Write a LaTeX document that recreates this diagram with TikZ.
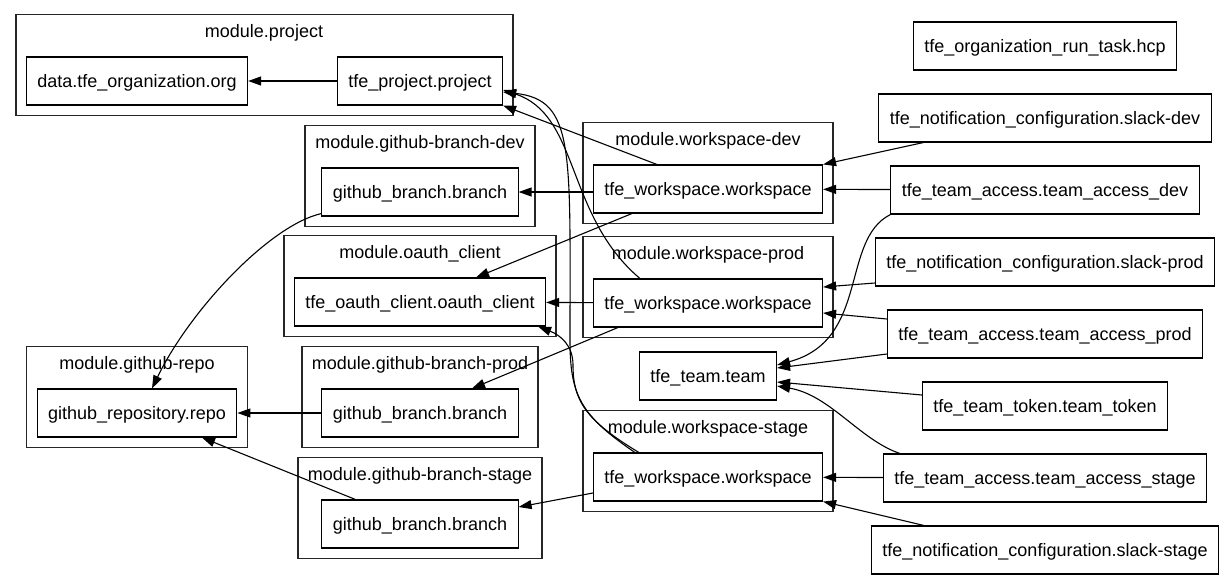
\documentclass[tikz,border=0pt]{standalone}
\usepackage{fontspec}
\setmainfont{Liberation Sans}
\usetikzlibrary{arrows.meta, calc, fit, positioning}

\begin{document}
\begin{tikzpicture}[
	x=1pt, y=-1pt,
	res/.style = {draw, line width=1.1pt, minimum height=48pt, inner xsep=11pt, text height=15pt, text depth=2pt, font=\fontsize{18}{20}\selectfont},
	modtitle/.style = {inner sep=0pt, text height=12.5pt, text depth=4pt, font=\fontsize{18}{20}\selectfont},
	cluster/.style = {draw=black!85, line width=1.6pt, inner sep=10pt},
	dep/.style = {-{Triangle[length=13pt, width=9pt]}, line width=1.1pt},
	node distance = 22.9pt and 0pt
]

\useasboundingbox (0,0) rectangle (1221,579);

% resources inside the modules
\node[res] (org) at (137,81) {data.tfe\_organization.org};
\node[res] (project) at (420,81) {tfe\_project.project};
\node[res] (gbdev) at (420,192) {github\_branch.branch};
\node[res] (oauth) at (420,302) {tfe\_oauth\_client.oauth\_client};
\node[res] (repo) at (137,413) {github\_repository.repo};
\node[res] (gbprod) at (420,413) {github\_branch.branch};
\node[res] (gbstage) at (420,524) {github\_branch.branch};
\node[res] (wsdev) at (708,189) {tfe\_workspace.workspace};
\node[res] (wsprod) at (708,303) {tfe\_workspace.workspace};
\node[res] (wsstage) at (708,477) {tfe\_workspace.workspace};
\node[res] (team) at (708,376) {tfe\_team.team};

% root resources
\node[res] (hcp) at (1045,46) {tfe\_organization\_run\_task.hcp};
\node[res, below=of hcp] (slackdev) {tfe\_notification\_configuration.slack-dev};
\node[res, below=of slackdev] (tadev) {tfe\_team\_access.team\_access\_dev};
\node[res, below=of tadev] (slackprod) {tfe\_notification\_configuration.slack-prod};
\node[res, below=of slackprod] (taprod) {tfe\_team\_access.team\_access\_prod};
\node[res, below=of taprod] (token) {tfe\_team\_token.team\_token};
\node[res, below=of token] (tastage) {tfe\_team\_access.team\_access\_stage};
\node[res, below=of tastage] (slackstage) {tfe\_notification\_configuration.slack-stage};

% modules
\node[modtitle] (tproject) at (264,33) {module.project};
\node[cluster, fit=(tproject)(org)(project)] (mproject) {};
\node[modtitle, above=15pt of gbdev] (tgbdev) {module.github-branch-dev};
\node[cluster, fit=(tgbdev)(gbdev)] (mgbdev) {};
\node[modtitle, above=15pt of oauth] (toauth) {module.oauth\_client};
\node[cluster, fit=(toauth)(oauth)] (moauth) {};
\node[modtitle, above=15pt of repo] (trepo) {module.github-repo};
\node[cluster, fit=(trepo)(repo)] (mrepo) {};
\node[modtitle, above=15pt of gbprod] (tgbprod) {module.github-branch-prod};
\node[cluster, fit=(tgbprod)(gbprod)] (mgbprod) {};
\node[modtitle, above=15pt of gbstage] (tgbstage) {module.github-branch-stage};
\node[cluster, fit=(tgbstage)(gbstage)] (mgbstage) {};
\node[modtitle, above=15pt of wsdev] (twsdev) {module.workspace-dev};
\node[cluster, fit=(twsdev)(wsdev)] (mwsdev) {};
\node[modtitle, above=15pt of wsprod] (twsprod) {module.workspace-prod};
\node[cluster, fit=(twsprod)(wsprod)] (mwsprod) {};
\node[modtitle, above=15pt of wsstage] (twsstage) {module.workspace-stage};
\node[cluster, fit=(twsstage)(wsstage)] (mwsstage) {};

% dependencies
\draw[dep] (project) -- (org);
\draw[dep] ([xshift=64pt]wsdev.north west) -- (project.south east);
\draw[dep] ([xshift=47pt]wsprod.north west) .. controls (565,215) and (580,115) .. ([yshift=-9pt]project.east);
\draw[dep] ([xshift=42pt]wsstage.north west) .. controls (580,415) and (570,395) .. (570,340) .. controls (570,150) and (575,100) .. ([yshift=-11pt]project.east);
\draw[dep] ([xshift=46pt]wsstage.north west) .. controls (585,420) and (573,400) .. (573,365) .. controls (573,345) and (560,335) .. ([xshift=-8pt]oauth.south east);
\draw[dep] (wsdev.west |- gbdev) -- (gbdev);
\draw[dep] ([xshift=39pt]wsdev.south west) -- ([xshift=56pt]oauth.north);
\draw[dep] (wsprod) -- (oauth);
\draw[dep] ([xshift=25pt]wsprod.south west) -- ([xshift=52pt]gbprod.north);
\draw[dep] ([yshift=-16pt]wsstage.west) -- ([yshift=17pt]gbstage.east);
\draw[dep] ([yshift=3pt]gbdev.south west) .. controls (270,225) and (190,310) .. ([xshift=15pt]repo.north);
\draw[dep] (gbprod) -- (repo);
\draw[dep] ([xshift=34pt]gbstage.north west) -- ([xshift=65pt]repo.south);
\draw[dep] ([xshift=45pt]slackdev.south west) -- (wsdev.north east);
\draw[dep] (tadev) -- (wsdev);
\draw[dep] (tadev.south west) .. controls (840,240) and (870,340) .. ([yshift=11pt]team.east);
\draw[dep] ([yshift=-21pt]slackprod.west) -- ([yshift=16pt]wsprod.east);
\draw[dep] ([yshift=15pt]taprod.west) -- ([yshift=-10pt]wsprod.east);
\draw[dep] ([yshift=-20pt]taprod.west) -- ([yshift=8pt]team.east);
\draw[dep] ([yshift=11pt]token.west) -- ([yshift=-6pt]team.east);
\draw[dep] ([xshift=17pt]tastage.north west) .. controls (860,440) and (830,395) .. ([yshift=-10pt]team.east);
\draw[dep] (tastage) -- (wsstage);
\draw[dep] ([xshift=53pt]slackstage.north west) -- (wsstage.south east);

\end{tikzpicture}
\end{document}
